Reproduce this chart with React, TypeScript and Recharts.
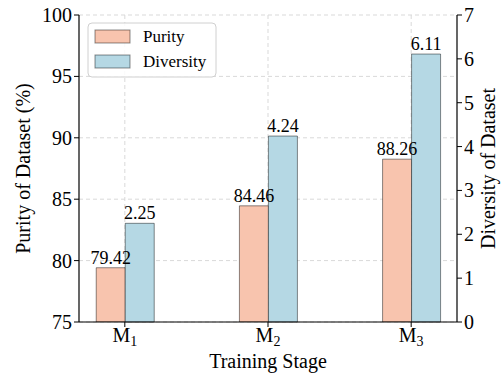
import React from 'react';
import {
  ComposedChart,
  Bar,
  XAxis,
  YAxis,
  CartesianGrid,
  LabelList,
  Label,
} from 'recharts';

const stages = ['M1', 'M2', 'M3'];
const purity = [79.42, 84.46, 88.26];
const diversity = [2.25, 4.24, 6.11];
const purityTicks = [75, 80, 85, 90, 95, 100];
const diversityTicks = [0, 1, 2, 3, 4, 5, 6, 7];

const data = stages.map((s, i) => ({ pos: i, stage: s, purity: purity[i], diversity: diversity[i] }));

const FONT = '"Liberation Serif", "Times New Roman", serif';
const PURITY_FILL = '#f8c4ae';
const DIVERSITY_FILL = '#b5d8e4';

const StageTick = (props: any) => {
  const { x, y, payload } = props;
  const name = stages[payload.value] ?? '';
  return (
    <text x={x} y={y + 13} textAnchor="middle" fontFamily={FONT} fontSize={20} fill="#000">
      <tspan>{name.slice(0, 1)}</tspan>
      <tspan fontSize={14} dy={4}>{name.slice(1)}</tspan>
    </text>
  );
};

const NumTick = (props: any) => {
  const { x, y, payload, textAnchor } = props;
  return (
    <text x={x} y={y + 7} textAnchor={textAnchor} fontFamily={FONT} fontSize={20} fill="#000">
      {payload.value}
    </text>
  );
};

const BarValue = (props: any) => {
  const { x, y, width, value } = props;
  return (
    <text x={x + width / 2} y={y - 4} textAnchor="middle" fontFamily={FONT} fontSize={18} fill="#000">
      {Number(value).toFixed(2)}
    </text>
  );
};

const Legend2 = () => (
  <g fontFamily={FONT} fontSize={17}>
    <rect x={88} y={23} width={128} height={54} rx={4} fill="#fff" fillOpacity={0.85} stroke="#d0d0d0" />
    <rect x={95} y={30} width={35} height={13} fill={PURITY_FILL} stroke="#000" strokeOpacity={0.45} />
    <text x={143} y={42} fill="#000">Purity</text>
    <rect x={95} y={55} width={35} height={13} fill={DIVERSITY_FILL} stroke="#000" strokeOpacity={0.45} />
    <text x={143} y={67} fill="#000">Diversity</text>
  </g>
);

export default function App() {
  return (
    <div style={{ position: 'absolute', left: 0, top: 0, width: 502, height: 374, background: '#fff', fontFamily: FONT }}>
      <ComposedChart
        width={502}
        height={374}
        data={data}
        margin={{ top: 15, right: 0, bottom: 0, left: 0 }}
        barGap={0}
      >
        <CartesianGrid
          yAxisId="left"
          stroke="#d9d9d9"
          strokeDasharray="4 3"
          horizontalValues={purityTicks}
          verticalValues={[0, 1, 2]}
        />
        <XAxis
          dataKey="pos"
          type="number"
          domain={[-0.32, 2.32]}
          ticks={[0, 1, 2]}
          allowDataOverflow
          height={52}
          stroke="#000"
          tickSize={5}
          tick={<StageTick />}
          axisLine={{ stroke: '#000', strokeWidth: 1.2 }}
        >
          <Label value="Training Stage" position="insideBottom" offset={6} fontFamily={FONT} fontSize={20} fill="#000" />
        </XAxis>
        <XAxis xAxisId="top" orientation="top" height={0} tick={false} tickLine={false} axisLine={{ stroke: '#000', strokeWidth: 1.2 }} />
        <YAxis
          yAxisId="left"
          domain={[75, 100]}
          ticks={purityTicks}
          width={79}
          stroke="#000"
          tickSize={5}
          tick={<NumTick />}
          axisLine={{ stroke: '#000', strokeWidth: 1.2 }}
          allowDataOverflow
        >
          <Label value="Purity of Dataset (%)" angle={-90} position="center" dx={-17} style={{ textAnchor: 'middle' }} fontFamily={FONT} fontSize={20} fill="#000" />
        </YAxis>
        <YAxis
          yAxisId="right"
          orientation="right"
          domain={[0, 7]}
          ticks={diversityTicks}
          width={45}
          stroke="#000"
          tickSize={5}
          tick={<NumTick />}
          axisLine={{ stroke: '#000', strokeWidth: 1.2 }}
        >
          <Label value="Diversity of Dataset" angle={-90} position="center" dx={8} style={{ textAnchor: 'middle' }} fontFamily={FONT} fontSize={20} fill="#000" />
        </YAxis>
        <Bar
          yAxisId="left"
          dataKey="purity"
          barSize={29}
          fill={PURITY_FILL}
          stroke="#000"
          strokeOpacity={0.45}
          isAnimationActive={false}
        >
          <LabelList dataKey="purity" content={<BarValue />} />
        </Bar>
        <Bar
          yAxisId="right"
          dataKey="diversity"
          barSize={29}
          fill={DIVERSITY_FILL}
          stroke="#000"
          strokeOpacity={0.45}
          isAnimationActive={false}
        >
          <LabelList dataKey="diversity" content={<BarValue />} />
        </Bar>
        <Legend2 />
      </ComposedChart>
    </div>
  );
}
